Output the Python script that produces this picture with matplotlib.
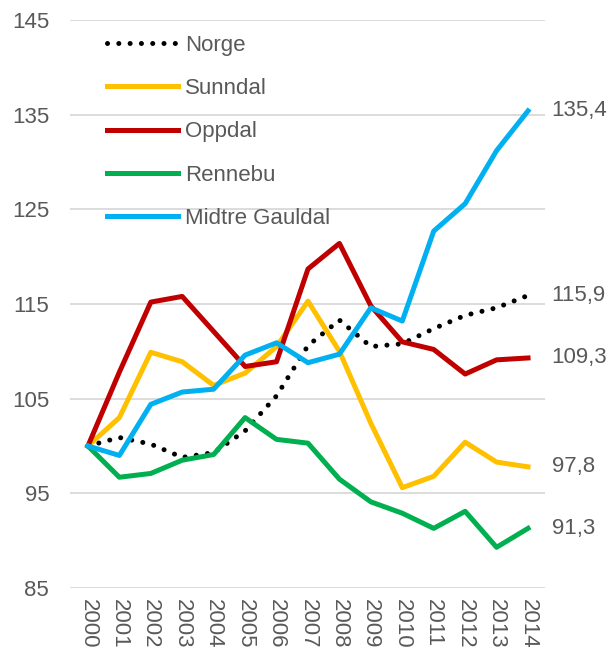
import matplotlib
matplotlib.use('Agg')
import matplotlib.pyplot as plt

years = [str(y) for y in range(2000, 2015)]
norge = [100, 100.9, 100.2, 98.8, 99.3, 101.6, 105.3, 110.6, 113.3, 110.5, 110.8, 112.4, 113.8, 114.6, 115.9]
sunndal = [100, 103.0, 109.9, 108.9, 106.4, 107.7, 110.5, 115.3, 110.0, 102.4, 95.6, 96.8, 100.4, 98.3, 97.8]
oppdal = [100, 107.8, 115.2, 115.8, 112.1, 108.4, 108.9, 118.7, 121.4, 114.8, 111.0, 110.2, 107.6, 109.1, 109.3]
rennebu = [100, 96.7, 97.1, 98.5, 99.1, 103.0, 100.7, 100.3, 96.5, 94.1, 92.9, 91.3, 93.1, 89.3, 91.3]
midtre = [100, 99.0, 104.4, 105.7, 106.0, 109.6, 110.9, 108.8, 109.7, 114.6, 113.2, 122.7, 125.6, 131.2, 135.4]
end_labels = ['115,9', '97,8', '109,3', '91,3', '135,4']

plt.rcParams['font.family'] = ['Liberation Sans', 'DejaVu Sans']
grey = '#595959'
fs = 16

fig = plt.figure(figsize=(6.11, 6.57), dpi=100)
ax = fig.add_axes([70 / 611, 1 - 588 / 657, 475 / 611, 568 / 657])

x = list(range(len(years)))
lw = 3.6
ax.plot(x, norge, color='black', lw=lw, linestyle=(0, (0.01, 2.25)),
        dash_capstyle='round', label='Norge', zorder=3)
ax.plot(x, sunndal, color='#FFC000', lw=lw, label='Sunndal', zorder=3)
ax.plot(x, oppdal, color='#C00000', lw=lw, label='Oppdal', zorder=3)
ax.plot(x, rennebu, color='#00B050', lw=lw, label='Rennebu', zorder=3)
ax.plot(x, midtre, color='#00B0F0', lw=lw, label='Midtre Gauldal', zorder=3)

for series, lab in zip([norge, sunndal, oppdal, rennebu, midtre], end_labels):
    ax.annotate(lab, (x[-1], series[-1]), xytext=(17, 0), textcoords='offset points',
                va='center', ha='left', fontsize=fs, color=grey)

ax.set_xlim(-0.57, 14.54)
ax.set_ylim(85, 145)
ax.set_yticks(range(85, 146, 10))
ax.set_xticks(x)
ax.set_xticklabels(years, rotation=-90)
ax.grid(axis='y', color='#D9D9D9', lw=1.3, zorder=0)
ax.set_axisbelow(True)
for s in ax.spines.values():
    s.set_visible(False)
ax.tick_params(length=0, labelsize=fs, colors=grey)
ax.tick_params(axis='y', pad=15)
ax.tick_params(axis='x', pad=8)

leg = ax.legend(loc='upper left', bbox_to_anchor=(37 / 475, 1 - 15 / 568), frameon=False,
                fontsize=fs, handlelength=3.2, handletextpad=0.3, labelspacing=1.0,
                borderpad=0, borderaxespad=0)
for t in leg.get_texts():
    t.set_color(grey)

fig.savefig('out.png', dpi=100)
